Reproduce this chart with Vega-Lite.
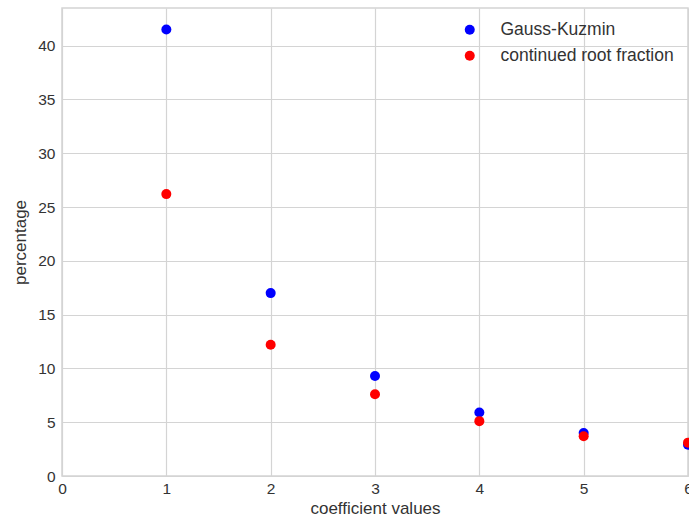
{
  "$schema": "https://vega.github.io/schema/vega-lite/v6.json",
  "autosize": "none",
  "width": 626,
  "height": 468,
  "padding": {"left": 62, "top": 8, "right": 1, "bottom": 43},
  "background": "white",
  "config": {
    "font": "Liberation Sans",
    "view": {"stroke": "#d4d4d4", "strokeWidth": 1.5},
    "axis": {
      "gridColor": "#d4d4d4",
      "gridWidth": 1.2,
      "domain": false,
      "ticks": false,
      "labelFont": "Liberation Sans",
      "labelFontSize": 15.5,
      "labelColor": "#333333",
      "titleFont": "Liberation Sans",
      "titleFontSize": 17,
      "titleFontWeight": "normal",
      "titleColor": "#333333"
    }
  },
  "data": {
    "values": [
      {"k": 1, "series": "Gauss-Kuzmin", "pct": 41.5},
      {"k": 2, "series": "Gauss-Kuzmin", "pct": 17.0},
      {"k": 3, "series": "Gauss-Kuzmin", "pct": 9.3},
      {"k": 4, "series": "Gauss-Kuzmin", "pct": 5.9},
      {"k": 5, "series": "Gauss-Kuzmin", "pct": 4.0},
      {"k": 6, "series": "Gauss-Kuzmin", "pct": 2.9},
      {"k": 1, "series": "continued root fraction", "pct": 26.2},
      {"k": 2, "series": "continued root fraction", "pct": 12.2},
      {"k": 3, "series": "continued root fraction", "pct": 7.6},
      {"k": 4, "series": "continued root fraction", "pct": 5.1},
      {"k": 5, "series": "continued root fraction", "pct": 3.7},
      {"k": 6, "series": "continued root fraction", "pct": 3.1}
    ]
  },
  "mark": {"type": "circle", "size": 100, "opacity": 1, "clip": false},
  "encoding": {
    "x": {
      "field": "k", "type": "quantitative",
      "scale": {"domain": [0, 6], "nice": false, "zero": false},
      "axis": {"values": [0, 1, 2, 3, 4, 5, 6], "labelPadding": 5, "title": "coefficient values", "titlePadding": 4, "labelFlush": false}
    },
    "y": {
      "field": "pct", "type": "quantitative",
      "scale": {"domain": [0, 43.5], "nice": false},
      "axis": {"values": [0, 5, 10, 15, 20, 25, 30, 35, 40], "labelPadding": 7, "title": "percentage", "titlePadding": 8, "labelFlush": false}
    },
    "color": {
      "field": "series", "type": "nominal",
      "scale": {"domain": ["Gauss-Kuzmin", "continued root fraction"], "range": ["#0000ff", "#ff0000"]},
      "legend": {
        "title": null,
        "orient": "none",
        "legendX": 399,
        "legendY": 13,
        "symbolType": "circle",
        "symbolSize": 100,
        "symbolOpacity": 1,
        "labelFontSize": 17.5,
        "labelColor": "#333333",
        "labelOffset": 22,
        "labelLimit": 400,
        "rowPadding": 7
      }
    },
    "order": {"field": "series", "sort": "ascending"}
  }
}
